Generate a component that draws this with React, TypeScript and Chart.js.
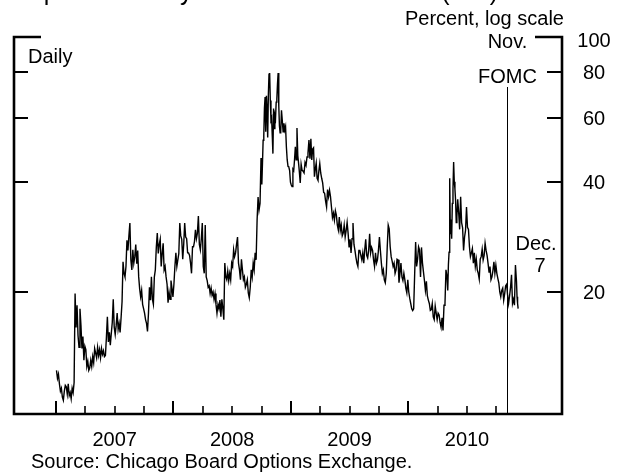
import React, { useEffect, useRef } from 'react';
import { Chart, registerables } from 'chart.js';

Chart.register(...registerables);

// ---------------- data ----------------
const years = [2007, 2008, 2009, 2010];
const yearLabels = ['2007', '2008', '2009', '2010'];
const yTicks = [20, 40, 60, 80, 100];
const yTickLabels = ['20', '40', '60', '80', '100'];

// Daily VIX readings (percent), sampled through each month, Jan..Dec
const vix2007 = [
  [12.2, 11.6, 11.9, 11.2, 10.7, 10.9, 10.3, 10.1, 10.7, 11.1],
  [11.0, 10.5, 11.2, 10.4, 10.6, 10.2, 10.9, 10.6, 11.3, 19.8],
  [16.0, 18.4, 15.2, 14.1, 18.0, 16.2, 14.0, 15.1, 13.0, 14.2],
  [13.9, 12.5, 12.9, 12.2, 12.4, 13.0, 12.5, 13.3, 12.8, 14.0],
  [13.6, 13.2, 14.1, 13.4, 13.9, 13.2, 14.0, 13.5, 13.8, 13.3],
  [13.4, 15.0, 17.1, 14.6, 15.5, 14.3, 15.4, 16.5, 19.1, 16.0],
  [15.3, 16.2, 17.5, 15.8, 16.4, 15.5, 17.0, 18.8, 24.2, 22.5],
  [22.0, 23.5, 27.7, 26.0, 28.5, 30.9, 24.5, 23.0, 26.1, 24.0],
  [25.0, 27.0, 23.9, 26.0, 22.0, 20.4, 19.4, 20.2, 18.5, 18.0],
  [17.5, 16.8, 16.4, 15.6, 17.5, 20.6, 19.0, 22.0, 19.1, 18.5],
  [22.0, 23.0, 26.5, 29.0, 25.5, 27.0, 27.9, 23.5, 25.5, 27.2],
  [23.0, 23.5, 22.0, 21.0, 18.7, 20.0, 19.1, 21.5, 20.5, 19.4],
];
const vix2008 = [
  [21.0, 23.5, 25.6, 23.5, 24.5, 25.5, 30.9, 28.5, 27.9, 24.6],
  [27.0, 30.9, 28.3, 28.0, 25.6, 25.6, 25.2, 24.0, 22.5, 26.6],
  [26.6, 27.5, 29.6, 28.0, 29.0, 32.3, 27.0, 26.1, 28.0, 30.9],
  [23.5, 22.5, 30.5, 22.0, 21.5, 20.6, 20.8, 19.8, 20.5, 19.6],
  [20.0, 19.1, 19.8, 18.5, 17.5, 18.5, 18.0, 19.0, 17.1, 19.1],
  [18.0, 16.8, 24.0, 22.0, 21.6, 22.8, 21.5, 22.5, 21.6, 24.0],
  [23.5, 26.1, 25.0, 25.6, 27.0, 28.3, 24.0, 23.0, 21.6, 24.6],
  [23.0, 21.6, 22.0, 20.6, 21.0, 21.6, 19.9, 19.3, 20.6, 23.0],
  [22.0, 24.0, 23.0, 25.6, 24.5, 31.5, 36.4, 33.6, 35.0, 46.6],
  [39.4, 45.1, 52.1, 53.7, 63.9, 68.5, 55.0, 69.0, 63.1, 53.0, 69.5, 79.1, 79.7, 67.0, 59.2],
  [60.0, 53.7, 47.9, 63.7, 56.1, 61.0, 59.8, 66.3, 67.6, 74.3, 79.7, 64.7, 57.0, 54.6, 55.3],
  [63.0, 59.0, 55.0, 58.0, 55.6, 56.8, 50.0, 46.1, 44.2, 44.0, 43.0, 40.0],
];
const vix2009 = [
  [39.3, 38.9, 43.4, 43.0, 46.1, 50.0, 46.1, 56.3, 47.3, 45.0, 42.5, 39.8],
  [44.8, 43.1, 42.9, 42.4, 45.3, 44.5, 46.9, 48.1, 52.2, 46.4],
  [52.6, 46.0, 49.3, 49.7, 41.4, 43.5, 45.1, 41.0, 40.5, 43.0, 45.0],
  [42.4, 41.0, 39.8, 37.5, 37.3, 35.5, 34.2, 38.2, 36.5, 38.0],
  [36.5, 34.2, 32.0, 32.9, 31.5, 33.4, 32.5, 30.5, 29.6, 32.1],
  [29.5, 30.5, 28.5, 29.0, 30.5, 28.3, 29.5, 31.0, 29.0, 26.5],
  [27.9, 25.6, 28.0, 30.9, 27.0, 26.0, 24.9, 24.0, 23.5, 26.0],
  [26.0, 25.2, 24.5, 25.6, 24.0, 26.1, 27.9, 25.2, 24.8, 26.0],
  [28.9, 25.6, 26.5, 26.0, 24.5, 23.5, 25.6, 24.0, 24.5, 26.0],
  [28.3, 26.0, 24.0, 22.5, 23.0, 21.6, 21.2, 22.5, 26.6, 30.5],
  [29.8, 26.6, 25.0, 24.3, 23.5, 24.0, 22.5, 23.0, 24.6, 24.5],
  [21.2, 22.5, 24.0, 22.0, 21.5, 22.5, 21.6, 20.5, 19.9, 21.6],
];
const vix2010 = [
  [20.0, 19.2, 18.6, 18.0, 17.8, 18.0, 22.3, 27.4, 23.5, 24.6],
  [26.6, 26.1, 22.0, 26.5, 24.0, 22.7, 21.5, 20.2, 21.4, 19.5],
  [19.0, 18.6, 17.8, 17.9, 18.6, 17.1, 16.8, 18.3, 17.5, 16.8],
  [17.5, 17.3, 16.5, 16.0, 17.0, 15.7, 18.4, 18.6, 23.0, 22.1],
  [20.2, 23.8, 25.7, 41.0, 28.8, 31.6, 28.0, 35.0, 38.2, 45.4, 40.1, 38.3, 35.7, 31.0, 32.1],
  [35.9, 33.0, 29.7, 36.5, 31.0, 30.0, 26.0, 28.3, 29.5, 34.2],
  [30.1, 29.7, 26.6, 25.0, 25.6, 26.3, 24.0, 25.6, 23.5, 24.6],
  [23.0, 22.5, 21.7, 24.6, 25.0, 26.2, 24.5, 25.2, 27.2, 26.0],
  [25.2, 24.0, 22.7, 23.5, 21.6, 22.0, 22.9, 24.2, 22.5, 23.7],
  [22.5, 21.8, 21.2, 20.0, 19.4, 20.2, 20.5, 19.0, 19.8, 20.8],
  [21.0, 19.6, 18.6, 19.5, 20.6, 22.3, 18.6, 19.1, 18.4, 23.7],
  [21.4, 19.4, 18.6, 18.0],
];
const lastDay = 7; // data end: Dec. 7, 2010
const fomcDate = { year: 2010, month: 11, day: 3 };

const xMin = 2006.6423;
const xMax = 2011.309;
const yMin = 9.26;
const yMax = 100;

function decYear(year: number, month: number, day: number) {
  const dim = new Date(year, month, 0).getDate();
  return year + (month - 1 + day / dim) / 12;
}

function buildPoints() {
  const all = [vix2007, vix2008, vix2009, vix2010];
  const pts: { x: number; y: number }[] = [];
  all.forEach((months, yi) => {
    const yr = years[yi];
    months.forEach((vals, m) => {
      const dim = new Date(yr, m + 1, 0).getDate();
      const isLast = yi === all.length - 1 && m === months.length - 1;
      vals.forEach((v, i) => {
        const day = isLast ? ((i + 1) / vals.length) * lastDay : ((i + 0.5) / vals.length) * dim;
        pts.push({ x: yr + (m + day / dim) / 12, y: v });
      });
    });
  });
  return pts;
}

const FONT = '"Liberation Sans", Arial, Helvetica, sans-serif';

const decorPlugin = {
  id: 'decor',
  afterDraw(chart: any) {
    const ctx = chart.ctx as CanvasRenderingContext2D;
    const xs = chart.scales.x;
    const ys = chart.scales.y;
    const a = chart.chartArea;
    ctx.save();
    ctx.strokeStyle = '#000';
    ctx.fillStyle = '#000';
    ctx.lineCap = 'butt';

    // frame
    ctx.lineWidth = 2.6;
    ctx.beginPath();
    ctx.moveTo(a.left, a.top - 1.3);
    ctx.lineTo(a.left, a.bottom);
    ctx.moveTo(a.left - 1.3, a.bottom);
    ctx.lineTo(a.right + 1.3, a.bottom);
    ctx.moveTo(a.right, a.bottom);
    ctx.lineTo(a.right, a.top - 1.3);
    // top corner segments
    ctx.moveTo(a.left - 1.3, a.top);
    ctx.lineTo(a.left + 27, a.top);
    ctx.moveTo(a.right - 27, a.top);
    ctx.lineTo(a.right + 1.3, a.top);
    ctx.stroke();

    // y ticks (both sides, inward)
    ctx.lineWidth = 2;
    ctx.beginPath();
    yTicks.forEach((t) => {
      if (t >= yMax) return;
      const py = Math.round(ys.getPixelForValue(t));
      ctx.moveTo(a.left, py);
      ctx.lineTo(a.left + 14, py);
      ctx.moveTo(a.right, py);
      ctx.lineTo(a.right - 15, py);
    });
    ctx.stroke();

    // x ticks: years (major) and quarters (minor)
    years.forEach((yr) => {
      for (let q = 0; q < 4; q++) {
        const px = Math.round(xs.getPixelForValue(yr + q / 4));
        ctx.lineWidth = q === 0 ? 2 : 1.6;
        ctx.beginPath();
        ctx.moveTo(px, a.bottom);
        ctx.lineTo(px, a.bottom - (q === 0 ? 13 : 8));
        ctx.stroke();
      }
    });

    // FOMC line
    const fx = Math.round(xs.getPixelForValue(decYear(fomcDate.year, fomcDate.month, fomcDate.day))) + 0.5;
    ctx.lineWidth = 1;
    ctx.beginPath();
    ctx.moveTo(fx, 87);
    ctx.lineTo(fx, a.bottom);
    ctx.stroke();

    // texts
    ctx.font = `20px ${FONT}`;
    ctx.textBaseline = 'alphabetic';

    // year labels
    ctx.textAlign = 'center';
    years.forEach((yr, i) => {
      ctx.fillText(yearLabels[i], xs.getPixelForValue(yr + 0.5), 446);
    });

    // right tick labels
    yTicks.forEach((t, i) => {
      const py = ys.getPixelForValue(t);
      const base = t >= yMax ? py + 10 : py + 7;
      ctx.fillText(yTickLabels[i], 594, base);
    });

    // annotations
    ctx.fillText('Nov.', fx, 48);
    ctx.fillText('FOMC', fx, 83);
    ctx.fillText('Dec.', 536, 250);
    ctx.fillText('7', 540, 272);

    ctx.textAlign = 'left';
    ctx.fillText('Daily', 28, 63);
    ctx.fillText('Percent, log scale', 405, 25);
    ctx.fillText('Source: Chicago Board Options Exchange.', 31, 468);

    // title, cut off at the top edge (only descenders visible)
    ctx.font = `25px ${FONT}`;
    ctx.fillText('Implied volatility of the S&P 500 index (VIX)', 16, -0.5);

    ctx.restore();
  },
};

export default function App() {
  const ref = useRef<HTMLCanvasElement | null>(null);

  useEffect(() => {
    if (!ref.current) return;
    const chart = new Chart(ref.current, {
      type: 'line',
      data: {
        datasets: [
          {
            data: buildPoints(),
            borderColor: '#000',
            borderWidth: 1.4,
            pointRadius: 0,
            tension: 0,
            fill: false,
          },
        ],
      },
      options: {
        animation: false,
        responsive: false,
        devicePixelRatio: 1,
        parsing: false as any,
        layout: { padding: { left: 14, right: 60, top: 37, bottom: 58 } },
        plugins: { legend: { display: false }, tooltip: { enabled: false } },
        scales: {
          x: { type: 'linear', min: xMin, max: xMax, display: false },
          y: { type: 'logarithmic', min: yMin, max: yMax, display: false },
        },
      },
      plugins: [decorPlugin],
    });
    return () => chart.destroy();
  }, []);

  return (
    <div style={{ position: 'fixed', left: 0, top: 0, width: 622, height: 472, background: '#fff' }}>
      <canvas ref={ref} width={622} height={472} style={{ display: 'block' }} />
    </div>
  );
}
